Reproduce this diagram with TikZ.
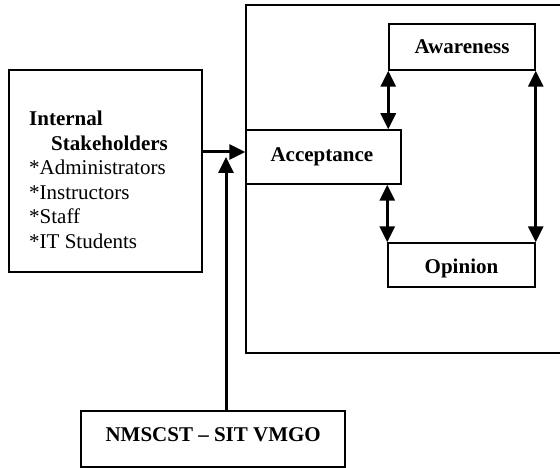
\documentclass[tikz,border=0pt]{standalone}
\usepackage{fontspec}
\setmainfont{Liberation Serif}
\usetikzlibrary{arrows.meta}
\begin{document}
\begin{tikzpicture}[x=1pt,y=-1pt,
  box/.style={draw, line width=1.5pt, inner sep=0pt, fill=white},
  lbl/.style={font=\fontsize{21}{24.5}\selectfont\bfseries},
  txt/.style={font=\fontsize{21}{24.5}\selectfont, inner sep=0pt},
  arr/.style={line width=3pt, -{Triangle[length=16pt,width=15pt]}},
  darr/.style={line width=3pt, {Triangle[length=16pt,width=15pt]}-{Triangle[length=16pt,width=15pt]}}]
\useasboundingbox (0,0) rectangle (560,468);
% outer frame (open on the right)
\draw[line width=1.5pt] (562,5) -- (246,5) -- (246,353) -- (562,353);
% boxes
\node[box, line width=2pt, minimum width=193pt, minimum height=202pt] (int) at (105.5,171) {};
\node[txt, anchor=north west, align=left] (inttxt) at (29,111) {\textbf{Internal}\\\hspace*{22pt}\textbf{Stakeholders}\\*Administrators\\*Instructors\\*Staff\\*IT Students};
\node[box, minimum width=155pt, minimum height=54pt] (acc) at (323.5,157) {};
\node[lbl, anchor=base west] at (267,162) {Acceptance};
\node[box, minimum width=146pt, minimum height=46pt] (aw) at (462,47) {};
\node[lbl, anchor=base] at (462,54) {Awareness};
\node[box, minimum width=147pt, minimum height=44pt] (op) at (461.5,265) {};
\node[lbl, anchor=base] at (461.5,273) {Opinion};
\node[box, line width=2pt, minimum width=264pt, minimum height=56pt] (nm) at (213,439) {};
\node[lbl, anchor=base west] at (102,441) {NMSCST -- SIT VMGO};
% connectors
\coordinate (j) at ([yshift=5pt]acc.west);
\draw[arr] (int.east |- j) -- (j);
\coordinate (up) at (226,157);
\draw[arr] (nm.north -| up) -- (up);
\draw[darr] (aw.south west) -- (aw.south west |- acc.north);
\draw[darr] (acc.south -| op.north west) -- (op.north west);
\draw[darr] (aw.south east) -- (op.north east);
\end{tikzpicture}
\end{document}
